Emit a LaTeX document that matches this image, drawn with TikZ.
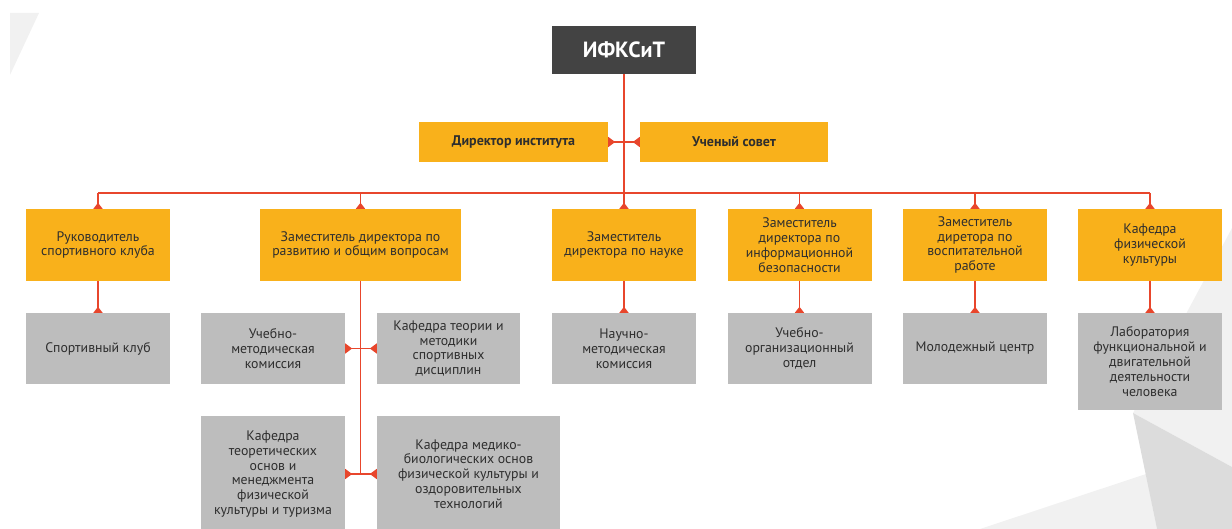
\documentclass[tikz,border=0pt]{standalone}
\usepackage{fontspec}
\setmainfont{PT Sans}
\usetikzlibrary{arrows.meta}
\definecolor{orangeC}{HTML}{F9B11B}
\definecolor{greyC}{HTML}{BDBDBD}
\definecolor{darkC}{HTML}{434343}
\definecolor{redC}{HTML}{E8462C}
\definecolor{txtC}{HTML}{2E2E2E}
\definecolor{bgA}{HTML}{F1F1F1}
\definecolor{bgB}{HTML}{DCDCDC}
\tikzset{
  basebox/.style={inner sep=0pt, align=center, text=txtC, font=\fontsize{13.8}{14.8}\selectfont},
  obox/.style={basebox, fill=orangeC},
  gbox/.style={basebox, fill=greyC},
  link/.style={draw=redC, line width=1.5pt},
  droptip/.style={link, -{Triangle[reversed, width=9pt, length=6pt]}},
  sidetip/.style={link, {Triangle[reversed, width=10pt, length=7pt]}-{Triangle[reversed, width=10pt, length=7pt]}},
}
\begin{document}
\begin{tikzpicture}[x=1pt,y=-1pt]
\useasboundingbox (0,0) rectangle (1232,529);
% background decorations
\fill[bgA] (10,13) -- (39,13) -- (10,75) -- cycle;
\fill[bgA] (1232,228) -- (1133,413) -- (1232,467) -- cycle;
\fill[bgA] (980,529) -- (1146,474) -- (1157,529) -- cycle;
\fill[bgB] (1133,413) -- (1232,467) -- (1232,529) -- (1157,529) -- cycle;

% top
\node[basebox, fill=darkC, text=white, font=\bfseries\fontsize{22}{26}\selectfont, minimum width=144pt, minimum height=48pt] (top) at (624,50) {ИФКСиТ};
\node[obox, font=\bfseries\fontsize{14}{15}\selectfont, minimum width=189pt, minimum height=40pt] (dir) at (513.5,142) {Директор института};
\node[obox, font=\bfseries\fontsize{14}{15}\selectfont, minimum width=188pt, minimum height=40pt] (sov) at (734,142) {Ученый совет};

% level 2
\tikzset{l2/.style={obox, minimum height=72pt, minimum width=144pt}}
\node[l2] (ruk) at (98,245) {Руководитель\\спортивного клуба};
\node[l2, minimum width=201pt] (razv) at (360.5,245) {Заместитель директора по\\развитию и общим вопросам};
\node[l2] (nauka) at (624,245) {Заместитель\\директора по науке};
\node[l2] (info) at (799.5,245) {Заместитель\\директора по\\информационной\\безопасности};
\node[l2] (vosp) at (975,245) {Заместитель\\диретора по\\воспитательной\\работе};
\node[l2] (kaf) at (1150,245) {Кафедра\\физической\\культуры};

% level 3
\tikzset{l3/.style={gbox, minimum height=71pt, minimum width=144pt}}
\node[l3] (sport) at (98,348.5) {Спортивный клуб};
\node[l3] (uchmet) at (273,348.5) {Учебно-\\методическая\\комиссия};
\node[l3, minimum width=143pt] (kafteor) at (448.5,348.5) {Кафедра теории и\\методики\\спортивных\\дисциплин};
\node[l3] (naumet) at (624,348.5) {Научно-\\методическая\\комиссия};
\node[l3] (uchorg) at (799.5,348.5) {Учебно-\\организационный\\отдел};
\node[l3] (molod) at (975,348.5) {Молодежный центр};
\node[l3, minimum height=97pt] (lab) at (1150,361.5) {Лаборатория\\функциональной и\\двигательной\\деятельности\\человека};

% level 4
\node[gbox, minimum width=144pt, minimum height=116pt] (kafteoret) at (273,474) {Кафедра\\теоретических\\основ и\\менеджмента\\физической\\культуры и туризма};
\node[gbox, minimum width=183pt, minimum height=116pt] (kafmed) at (468.5,474) {Кафедра медико-\\биологических основ\\физической культуры и\\оздоровительных\\технологий};

% connectors
\coordinate (busL) at (98,193);
\coordinate (busR) at (1150,193);
\draw[link] (busL) -- (busR);
\draw[droptip] (top.south) -- (nauka.north);
\draw[sidetip] (dir.east) -- (sov.west);
\foreach \n in {ruk,razv,info,vosp,kaf}{
  \draw[droptip] (\n.north |- busL) -- (\n.north);
}
\draw[droptip] (ruk.south) -- (sport.north);
\draw[droptip] (nauka.south) -- (naumet.north);
\draw[droptip] (info.south) -- (uchorg.north);
\draw[droptip] (vosp.south) -- (molod.north);
\draw[droptip] (kaf.south) -- (lab.north);
\draw[link] (razv.south) -- (razv.south |- kafteoret.east);
\draw[sidetip] (uchmet.east) -- (kafteor.west);
\draw[sidetip] (kafteoret.east) -- (kafmed.west);
\end{tikzpicture}
\end{document}
